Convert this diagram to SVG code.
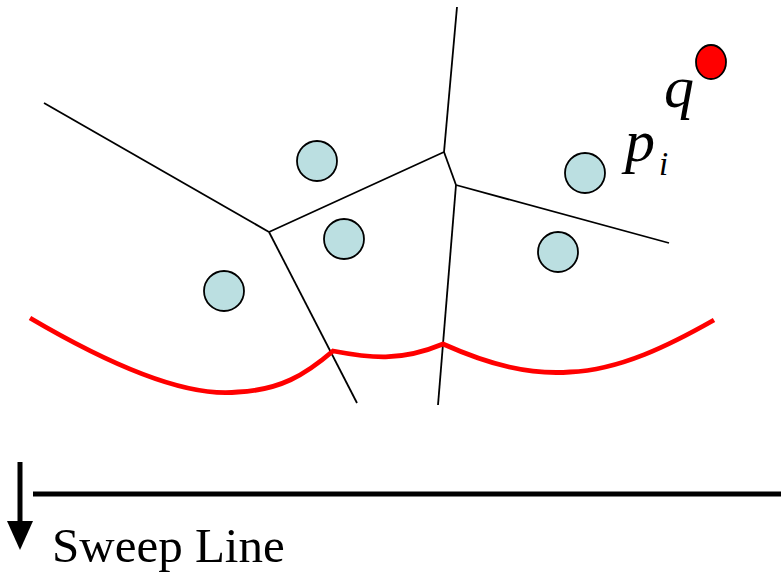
<svg xmlns="http://www.w3.org/2000/svg" width="781" height="575" viewBox="0 0 781 575">
<style>
.edge{stroke:#000;stroke-width:1.8;fill:none}
.site{fill:#bbdfe1;stroke:#000;stroke-width:1.8}
.beach{stroke:#ff0000;stroke-width:4.8;fill:none}
.lbl{font-family:"Liberation Serif","Times New Roman",serif;fill:#000}
</style>
<rect width="781" height="575" fill="#fff"/>
<g id="connectors">
<line class="edge" x1="457" y1="7" x2="444" y2="152"/>
<line class="edge" x1="44" y1="103" x2="269" y2="232"/>
<line class="edge" x1="269" y1="232" x2="444" y2="152"/>
<line class="edge" x1="444" y1="152" x2="456" y2="185"/>
<line class="edge" x1="456" y1="185" x2="669" y2="243"/>
<line class="edge" x1="269" y1="232" x2="357" y2="403"/>
<line class="edge" x1="456" y1="185" x2="438" y2="405"/>
</g>
<g id="sites">
<circle id="s1" class="site" cx="317" cy="161" r="20"/>
<circle id="s2" class="site" cx="344" cy="239" r="20"/>
<circle id="s3" class="site" cx="585" cy="173" r="20"/>
<circle id="s4" class="site" cx="558" cy="252" r="20"/>
<circle id="s5" class="site" cx="224" cy="291" r="20"/>
</g>
<g id="q">
<ellipse cx="711" cy="62" rx="15" ry="17" fill="#ff0000" stroke="#000" stroke-width="1.8"/>
<text class="lbl" x="664" y="107" font-size="60" font-style="italic">q</text>
</g>
<g id="pi">
<text class="lbl" x="625" y="161" font-size="60" font-style="italic">p</text>
<text class="lbl" x="659" y="175" font-size="33" font-style="italic">i</text>
</g>
<g id="beachline">
<path class="beach" d="M30,318 C110,365 185,398 238,392 C280,390 305,375 333,351 C370,358 400,362 443,344 C490,365 530,375 570,372 C620,370 670,345 714,320"/>
</g>
<g id="sweep">
<line x1="33" y1="494" x2="781" y2="494" stroke="#000" stroke-width="5"/>
<line x1="20" y1="462" x2="20" y2="526" stroke="#000" stroke-width="5"/>
<polygon points="7,521 33,521 20,550" fill="#000"/>
<text class="lbl" x="52" y="562" font-size="49">Sweep Line</text>
</g>
</svg>
